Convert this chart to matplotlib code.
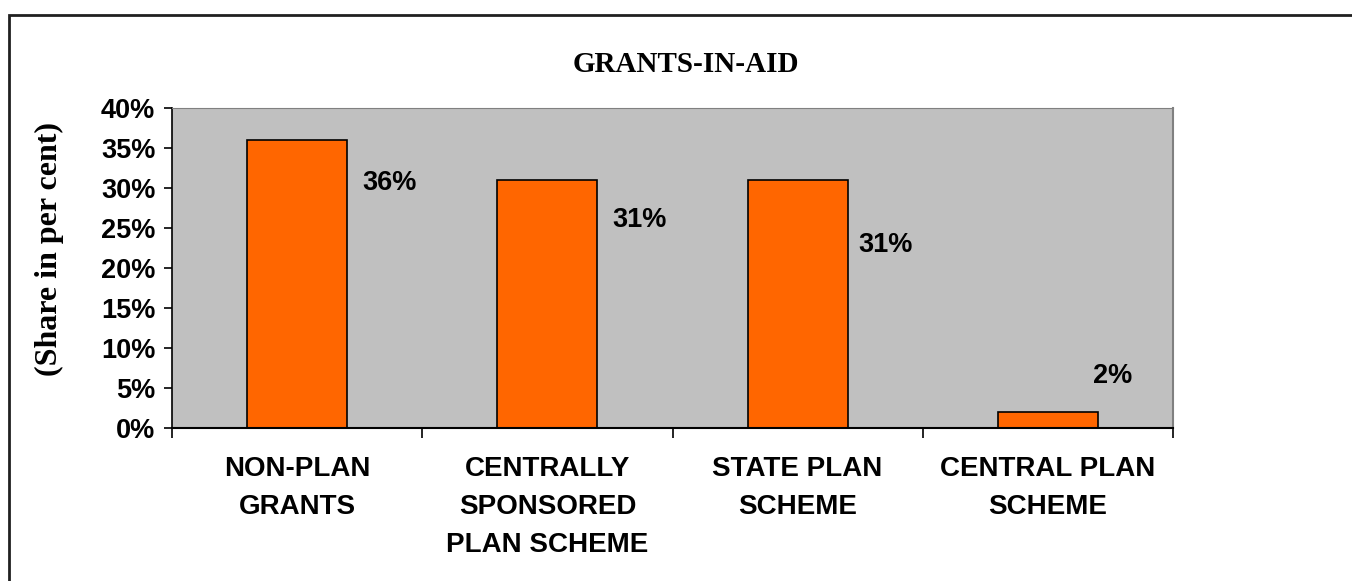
import matplotlib.pyplot as plt
from matplotlib.patches import Rectangle
from matplotlib.ticker import FixedLocator, PercentFormatter

# data
categories = ["NON-PLAN\nGRANTS", "CENTRALLY\nSPONSORED\nPLAN SCHEME",
              "STATE PLAN\nSCHEME", "CENTRAL PLAN\nSCHEME"]
shares = [36, 31, 31, 2]
value_labels = ["36%", "31%", "31%", "2%"]

# where the value labels sit (offset from bar centre / from bar top)
label_dx = [0.37, 0.37, 0.35, 0.26]
label_dy = [-5.4, -5.0, -8.1, 4.5]

plt.rcParams['font.family'] = ['Liberation Sans', 'DejaVu Sans']

fig = plt.figure(figsize=(13.52, 5.81), dpi=100)
ax = fig.add_axes([172 / 1352, 1 - 428 / 581, 1001 / 1352, 320 / 581])

# outer frame of the chart
fig.patches.append(Rectangle((9 / 1352, -0.1), 1.1, 1 - 15 / 581 + 0.1,
                             transform=fig.transFigure, fill=False,
                             edgecolor='#202020', linewidth=2))

x = list(range(len(categories)))
ax.bar(x, shares, width=0.4, color='#FF6600', edgecolor='black', linewidth=1.2, zorder=2)
ax.set_facecolor('#C0C0C0')
ax.set_xlim(-0.5, len(categories) - 0.5)
ax.set_ylim(0, 40)

for i, v in enumerate(shares):
    ax.text(i + label_dx[i], v + label_dy[i], value_labels[i], ha='center', va='center',
            fontsize=19.5, fontweight='bold')

ax.yaxis.set_major_locator(FixedLocator(range(0, 41, 5)))
ax.yaxis.set_major_formatter(PercentFormatter(decimals=0))
ax.tick_params(axis='y', labelsize=19.5, length=6, width=1.2, pad=6)
for t in ax.get_yticklabels():
    t.set_fontweight('bold')

ax.set_xticks([i - 0.5 for i in range(len(categories) + 1)])
ax.set_xticklabels([])
ax.set_xticks(x, minor=True)
ax.set_xticklabels(categories, minor=True, fontsize=20, fontweight='bold', linespacing=1.6)
ax.tick_params(axis='x', which='major', length=7, width=1.2)
ax.tick_params(axis='x', which='minor', length=0, pad=20)

ax.spines['left'].set_linewidth(1.2)
ax.spines['bottom'].set_linewidth(1.5)
ax.spines['top'].set_color('#808080')
ax.spines['right'].set_color('#808080')
ax.spines['right'].set_linewidth(1.5)

fig.text(686 / 1352, 1 - 65 / 581, "GRANTS-IN-AID", ha='center', va='center',
         fontsize=21, fontweight='bold', family='Liberation Serif')
fig.text(49 / 1352, 1 - 249 / 581, "(Share in per cent)", ha='center', va='center',
         rotation=90, fontsize=23, fontweight='bold', family='Liberation Serif')

fig.savefig("out.png", dpi=100)
